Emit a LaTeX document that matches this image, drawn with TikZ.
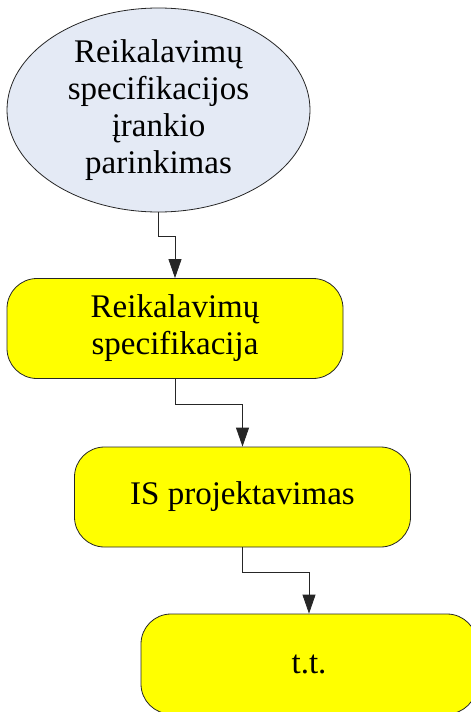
\documentclass[tikz,border=0pt]{standalone}
\usepackage{fontspec}
\setmainfont{Liberation Serif}
\usetikzlibrary{shapes.geometric,arrows.meta}
\definecolor{ovalfill}{RGB}{228,234,245}
\definecolor{stepfill}{RGB}{255,255,0}
\tikzset{
  x=1pt, y=-1pt,
  label text/.style={font=\fontsize{33}{37}\selectfont, align=center, text=black},
  oval/.style={ellipse, draw=black!85, line width=0.8pt, fill=ovalfill,
    minimum width=303pt, minimum height=204pt, inner sep=0pt, label text},
  stepbox/.style={rectangle, rounded corners=30pt, draw=black!85, line width=0.8pt,
    fill=stepfill, minimum width=336pt, minimum height=100pt, inner sep=0pt, label text},
  flow/.style={draw=black!85, line width=0.8pt, -{Triangle[length=19pt,width=13pt]}}
}
\begin{document}
\begin{tikzpicture}
\useasboundingbox (0,0) rectangle (471,712);
\clip (0,0) rectangle (471,712);
\node[oval] (tool) at (158.5,110) {Reikalavimų\\specifikacijos\\įrankio\\parinkimas};
\node[stepbox] (spec) at (175,328.5) {Reikalavimų\\specifikacija};
\node[stepbox] (proj) at (242.5,497) {IS projektavimas};
\node[stepbox] (etc) at (309,664) {t.t.};
\draw[flow] (tool.south) -- ++(0,24) -| (spec.north);
\draw[flow] (spec.south) -- ++(0,25) -| (proj.north);
\draw[flow] (proj.south) -- ++(0,25) -| (etc.north);
\end{tikzpicture}
\end{document}
